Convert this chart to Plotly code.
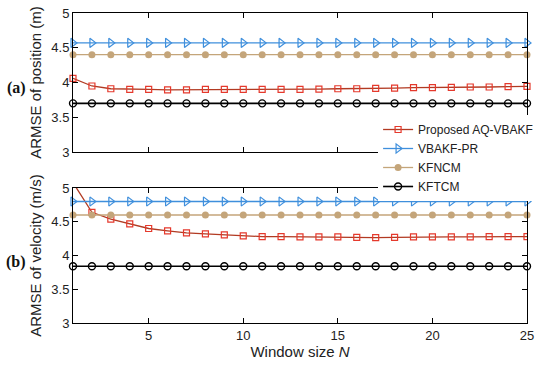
import plotly.graph_objects as go

N = list(range(1, 26))

pos_aq = [4.06, 3.95, 3.91, 3.90, 3.90, 3.895, 3.895, 3.90, 3.90, 3.90, 3.90, 3.90, 3.90, 3.905, 3.91,
          3.91, 3.915, 3.92, 3.925, 3.925, 3.93, 3.935, 3.935, 3.94, 3.945]
pos_vbakf = [4.57] * 25
pos_kfncm = [4.40] * 25
pos_kftcm = [3.70] * 25

vel_aq = [5.08, 4.64, 4.54, 4.47, 4.40, 4.365, 4.335, 4.32, 4.305, 4.29, 4.28, 4.28, 4.275, 4.275, 4.275,
          4.27, 4.265, 4.27, 4.275, 4.275, 4.275, 4.275, 4.28, 4.28, 4.28]
vel_vbakf = [4.80] * 25
vel_kfncm = [4.60] * 25
vel_kftcm = [3.84] * 25

names = ["Proposed AQ-VBAKF", "VBAKF-PR", "KFNCM", "KFTCM"]
x_ticks = [5, 10, 15, 20, 25]
y_ticks = [3, 3.5, 4, 4.5, 5]
y_ticklabels = ["3", "3.5", "4", "4.5", "5"]

styles = [
    dict(line=dict(color="#b23a22", width=1.3),
         marker=dict(symbol="square-open", size=6, color="#e5392c", line=dict(width=1.2))),
    dict(line=dict(color="#3f8fdc", width=1.3),
         marker=dict(symbol="triangle-right-open", size=8, color="#3f8fdc", line=dict(width=1.2))),
    dict(line=dict(color="#c4a57a", width=1.3),
         marker=dict(symbol="circle", size=7, color="#c4a57a")),
    dict(line=dict(color="#000000", width=1.6),
         marker=dict(symbol="circle-open", size=7, color="#000000", line=dict(width=1.4))),
]

fig = go.Figure()
top = [pos_aq, pos_vbakf, pos_kfncm, pos_kftcm]
bot = [vel_aq, vel_vbakf, vel_kfncm, vel_kftcm]
for i in [0, 1, 2, 3]:
    fig.add_trace(go.Scatter(x=N, y=top[i], mode="lines+markers", name=names[i],
                             xaxis="x2", yaxis="y2", showlegend=True,
                             cliponaxis=False, **styles[i]))
for i in [0, 1, 2, 3]:
    fig.add_trace(go.Scatter(x=N, y=bot[i], mode="lines+markers", name=names[i],
                             xaxis="x", yaxis="y", showlegend=False,
                             cliponaxis=(i == 0), **styles[i]))

font_main = "Liberation Sans, Arial, sans-serif"
axis_common = dict(showline=True, linecolor="black", linewidth=1, mirror="ticks",
                   ticks="inside", ticklen=5, tickcolor="black", showgrid=False, zeroline=False,
                   automargin=False, ticklabeloverflow="allow",
                   tickfont=dict(family=font_main, size=13, color="#222"))

fig.update_layout(
    width=550, height=365,
    margin=dict(l=73, r=15, t=13, b=42),
    paper_bgcolor="white", plot_bgcolor="white",
    font=dict(family=font_main, color="#222"),
    xaxis=dict(domain=[0, 1], anchor="y", range=[1, 25], tickvals=x_ticks,
               title=dict(text="Window size <i>N</i>", font=dict(size=15), standoff=2),
               **axis_common),
    yaxis=dict(domain=[0, 0.4355], anchor="x", range=[3, 5], tickvals=y_ticks, ticktext=y_ticklabels,
               title=dict(text="ARMSE of velocity (m/s)", font=dict(size=15), standoff=6),
               **axis_common),
    xaxis2=dict(domain=[0, 1], anchor="y2", range=[1, 25], tickvals=x_ticks, showticklabels=False,
                **axis_common),
    yaxis2=dict(domain=[0.5516, 1], anchor="x2", range=[3, 5], tickvals=y_ticks, ticktext=y_ticklabels,
                title=dict(text="ARMSE of position (m)", font=dict(size=15), standoff=6),
                **axis_common),
    legend=dict(x=0.672, y=(323 - 115) / 310, xanchor="left", yanchor="top", bgcolor="white",
                font=dict(family=font_main, size=12, color="#222"), tracegroupgap=0,
                itemwidth=30),
)
for lab, ypix in [("(a)", 88), ("(b)", 262)]:
    fig.add_annotation(text="<b>%s</b>" % lab, xref="paper", yref="paper",
                       x=(15 - 73) / 462, y=(323 - ypix) / 310, xanchor="center", yanchor="middle",
                       showarrow=False, font=dict(family="Liberation Serif, serif", size=16, color="#111"))

# remove the browser's default 8px body margin so the figure sits at the page origin
fig.write_html("out.html", config={"displayModeBar": False},
               post_script="document.body.style.margin='0';")
